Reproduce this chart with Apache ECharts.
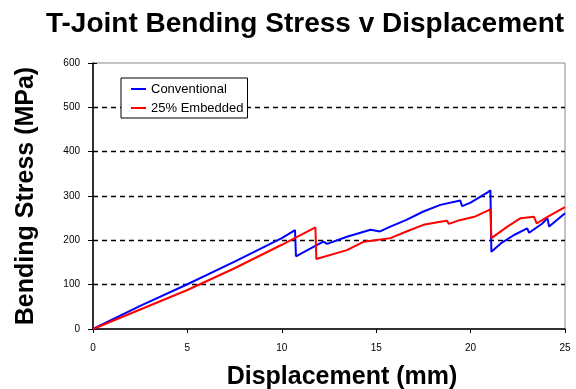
<!DOCTYPE html>
<html>
<head>
<meta charset="utf-8">
<script src="https://cdn.jsdelivr.net/npm/echarts@6/dist/echarts.min.js"></script>
<style>html,body{margin:0;padding:0;background:#fff}#c{width:576px;height:389px}</style>
</head>
<body>
<div id="c"></div>
<script>
var titleText = 'T-Joint Bending Stress v Displacement';
var xTitle = 'Displacement (mm)';
var yTitle = 'Bending Stress (MPa)';
var seriesNames = ['Conventional', '25% Embedded'];

var convX = [0, 2.5, 5, 7.5, 10, 10.7, 10.75, 11.7, 12.2, 12.4, 13.45, 14.7, 15.2, 15.75, 16.6, 17.5, 18.4, 19.45, 19.55, 20.0, 20.9, 21.05, 21.1, 21.6, 22.3, 23.0, 23.1, 23.8, 24.07, 24.16, 25];
var convY = [0, 52, 101, 152, 205, 223, 164, 186, 197, 192, 208, 224, 220, 231, 246, 265, 280, 290, 277, 285, 308, 313, 174, 193, 212, 227, 217, 238, 250, 231, 261];

var embX = [0, 2.5, 5, 7.5, 10, 11.78, 11.83, 13.45, 14.35, 15.05, 15.75, 16.6, 17.5, 18.4, 18.75, 18.85, 19.3, 20.2, 21.05, 21.1, 21.95, 22.65, 23.36, 23.5, 24.07, 25];
var embY = [0, 44, 88, 137, 190, 229, 158, 178, 197, 201, 205, 220, 235, 242, 244, 237, 244, 253, 270, 205, 231, 250, 253, 238, 253, 275];

function pairs(xs, ys) { return xs.map(function (x, i) { return [x, ys[i]]; }); }

var chart = echarts.init(document.getElementById('c'), null, {renderer: 'canvas'});
var font = 'Liberation Sans, Arial, sans-serif';
chart.setOption({
  animation: false,
  backgroundColor: '#fff',
  title: {
    text: titleText, left: 300, top: 5, textAlign: 'center',
    textStyle: {fontFamily: font, fontWeight: 'bold', fontSize: 28, color: '#000'}
  },
  legend: {
    orient: 'vertical', left: 121, top: 78,
    padding: [4, 4, 3, 10], itemGap: 5, itemWidth: 15, itemHeight: 2,
    icon: 'rect',
    borderColor: '#000', borderWidth: 1, backgroundColor: '#fff',
    textStyle: {fontFamily: font, fontSize: 13, color: '#000', lineHeight: 14},
    data: seriesNames
  },
  grid: {left: 93, right: 11, top: 63, bottom: 60, show: true, borderColor: '#888', borderWidth: 1, backgroundColor: 'transparent', outerBoundsMode: 'none', containLabel: false},
  xAxis: {
    type: 'value', min: 0, max: 25, interval: 5,
    name: xTitle, nameLocation: 'middle', nameGap: 36,
    nameTextStyle: {fontFamily: font, fontWeight: 'bold', fontSize: 25, color: '#000', padding: [0, 0, 0, 26]},
    axisLine: {show: true, lineStyle: {color: '#000', width: 1.5}},
    axisTick: {show: true, length: 4, lineStyle: {color: '#000'}},
    axisLabel: {fontFamily: font, fontSize: 10, color: '#000', margin: 14},
    splitLine: {show: false}
  },
  yAxis: [{
    type: 'value', min: 0, max: 600, interval: 100,
    name: yTitle, nameLocation: 'middle', nameGap: 54,
    nameTextStyle: {fontFamily: font, fontWeight: 'bold', fontSize: 25, color: '#000'},
    axisLine: {show: true, lineStyle: {color: '#000', width: 1.5}},
    axisTick: {show: true, length: 5, lineStyle: {color: '#000'}},
    axisLabel: {fontFamily: font, fontSize: 10, color: '#000', margin: 13},
    splitLine: {show: true, showMinLine: false, showMaxLine: false, lineStyle: {color: '#000', type: [5, 4], width: 1.3}}
  }, {
    type: 'value', min: 0, max: 600, interval: 100, position: 'left',
    axisLine: {show: false}, axisLabel: {show: false}, splitLine: {show: false},
    axisTick: {show: true, inside: true, length: 4, lineStyle: {color: '#000'}}
  }],
  series: [{
    name: seriesNames[0], type: 'line', data: pairs(convX, convY),
    showSymbol: false, symbol: 'none', lineStyle: {color: '#0000ff', width: 2}, itemStyle: {color: '#0000ff'}, z: 3
  }, {
    name: seriesNames[1], type: 'line', data: pairs(embX, embY),
    showSymbol: false, symbol: 'none', lineStyle: {color: '#ff0000', width: 2}, itemStyle: {color: '#ff0000'}, z: 4
  }]
});
</script>
</body>
</html>
